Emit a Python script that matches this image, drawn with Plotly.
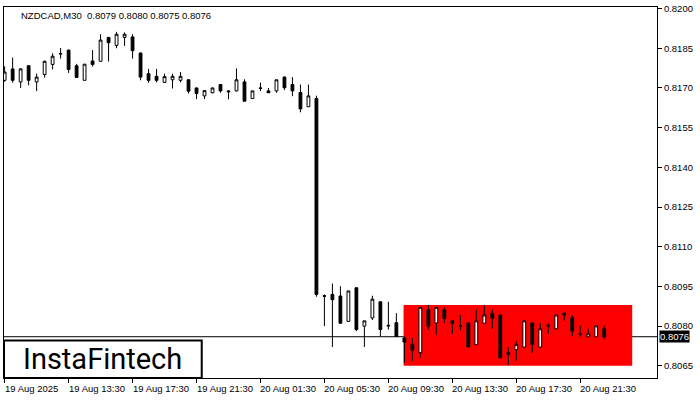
import plotly.graph_objects as go
import pandas as pd

# ---- data ----
symbol_title = "NZDCAD,M30\u00a0 0.8079 0.8080 0.8075 0.8076"
start_time = "2025-08-19 09:30"

opens = [0.81729, 0.81772, 0.81723, 0.81784, 0.81723, 0.81751, 0.81789, 0.81830, 0.81843, 0.81784,
         0.81729, 0.81802, 0.81801, 0.81891, 0.81861, 0.81891, 0.81893, 0.81832, 0.81754, 0.81744,
         0.81721, 0.81731, 0.81729, 0.81731, 0.81700, 0.81670, 0.81682, 0.81713, 0.81685, 0.81689,
         0.81723, 0.81660, 0.81700, 0.81689, 0.81689, 0.81741, 0.81713, 0.81683, 0.81629, 0.81660,
         0.80915, 0.80920, 0.80914, 0.80818, 0.80945, 0.80800, 0.80831, 0.80892, 0.80803, 0.80813,
         0.80755, 0.80731, 0.80700, 0.80862, 0.80812, 0.80862, 0.80820, 0.80801, 0.80812, 0.80730,
         0.80811, 0.80849, 0.80842, 0.80693, 0.80711, 0.80721, 0.80812, 0.80721, 0.80803, 0.80790,
         0.80849, 0.80832, 0.80770, 0.80760, 0.80760, 0.80790]
highs = [0.81782, 0.81815, 0.81775, 0.81786, 0.81754, 0.81803, 0.81831, 0.81851, 0.81845, 0.81791,
         0.81790, 0.81843, 0.81903, 0.81893, 0.81912, 0.81910, 0.81903, 0.81834, 0.81772, 0.81772,
         0.81754, 0.81754, 0.81760, 0.81733, 0.81702, 0.81692, 0.81702, 0.81715, 0.81692, 0.81774,
         0.81733, 0.81689, 0.81720, 0.81700, 0.81731, 0.81744, 0.81741, 0.81713, 0.81713, 0.81671,
         0.80920, 0.80961, 0.80951, 0.80933, 0.80946, 0.80820, 0.80915, 0.80893, 0.80892, 0.80849,
         0.80761, 0.80755, 0.80871, 0.80880, 0.80871, 0.80872, 0.80821, 0.80843, 0.80813, 0.80862,
         0.80880, 0.80862, 0.80843, 0.80721, 0.80742, 0.80820, 0.80813, 0.80811, 0.80812, 0.80842,
         0.80850, 0.80842, 0.80802, 0.80790, 0.80801, 0.80802]
lows = [0.81723, 0.81720, 0.81700, 0.81710, 0.81688, 0.81739, 0.81770, 0.81811, 0.81757, 0.81740,
        0.81729, 0.81781, 0.81801, 0.81800, 0.81850, 0.81859, 0.81811, 0.81729, 0.81720, 0.81721,
        0.81720, 0.81698, 0.81721, 0.81679, 0.81658, 0.81658, 0.81680, 0.81682, 0.81657, 0.81687,
        0.81650, 0.81659, 0.81688, 0.81682, 0.81682, 0.81692, 0.81669, 0.81608, 0.81628, 0.80911,
        0.80800, 0.80721, 0.80810, 0.80817, 0.80781, 0.80721, 0.80823, 0.80761, 0.80787, 0.80761,
        0.80662, 0.80669, 0.80680, 0.80787, 0.80768, 0.80811, 0.80771, 0.80783, 0.80721, 0.80729,
        0.80810, 0.80790, 0.80680, 0.80653, 0.80669, 0.80720, 0.80699, 0.80720, 0.80771, 0.80789,
        0.80821, 0.80762, 0.80761, 0.80759, 0.80759, 0.80751]
closes = [0.81760, 0.81729, 0.81772, 0.81729, 0.81741, 0.81801, 0.81820, 0.81829, 0.81770, 0.81740,
          0.81790, 0.81789, 0.81881, 0.81871, 0.81903, 0.81903, 0.81841, 0.81741, 0.81729, 0.81729,
          0.81743, 0.81744, 0.81744, 0.81688, 0.81679, 0.81690, 0.81700, 0.81689, 0.81688, 0.81731,
          0.81650, 0.81689, 0.81699, 0.81682, 0.81731, 0.81701, 0.81689, 0.81621, 0.81670, 0.80920,
          0.80913, 0.80900, 0.80811, 0.80933, 0.80787, 0.80820, 0.80902, 0.80787, 0.80801, 0.80761,
          0.80740, 0.80709, 0.80871, 0.80800, 0.80871, 0.80829, 0.80811, 0.80800, 0.80721, 0.80820,
          0.80842, 0.80829, 0.80680, 0.80700, 0.80730, 0.80820, 0.80730, 0.80790, 0.80801, 0.80842,
          0.80842, 0.80781, 0.80771, 0.80771, 0.80801, 0.80760]

current_price = 0.8076
zone_low = 0.8065
zone_high = 0.8088
zone_start_bar = 49.9
zone_end_bar = 78.5

y_ticks = [0.8065, 0.8080, 0.8095, 0.8110, 0.8125, 0.8140, 0.8155, 0.8170, 0.8185, 0.8200]
x_tick_bars = [0, 8, 16, 24, 32, 40, 48, 56, 64, 72]
x_tick_labels = ["19 Aug 2025", "19 Aug 13:30", "19 Aug 17:30", "19 Aug 21:30", "20 Aug 01:30",
                 "20 Aug 05:30", "20 Aug 09:30", "20 Aug 13:30", "20 Aug 17:30", "20 Aug 21:30"]

# ---- build ----
t0 = pd.Timestamp(start_time)
step = pd.Timedelta(minutes=30)
times = [t0 + i * step for i in range(len(opens))]


def bar_time(b):
    return t0 + b * step


FONT = "Liberation Sans"

fig = go.Figure()
fig.add_trace(go.Candlestick(
    x=times, open=opens, high=highs, low=lows, close=closes,
    increasing=dict(line=dict(color="black", width=1), fillcolor="white"),
    decreasing=dict(line=dict(color="black", width=1), fillcolor="black"),
    whiskerwidth=0, hoverinfo="skip", showlegend=False,
))

shapes = [
    dict(type="rect", xref="x", yref="y", x0=bar_time(zone_start_bar), x1=bar_time(zone_end_bar),
         y0=zone_low, y1=zone_high, fillcolor="#ff0000", line=dict(width=0), layer="below"),
    dict(type="line", xref="paper", yref="y", x0=0, x1=1, y0=current_price, y1=current_price,
         line=dict(color="black", width=1), layer="below"),
    # logo box
    dict(type="rect", xref="paper", yref="paper", x0=0.0, x1=0.3028, y0=0.0, y1=0.1013,
         fillcolor="white", line=dict(color="black", width=2), layer="above"),
]

annotations = [
    dict(xref="paper", yref="paper", x=0.023, y=1, xanchor="left", yanchor="top", yshift=-1,
         text=symbol_title, showarrow=False, font=dict(family=FONT, size=9.5, color="black")),
    dict(xref="paper", yref="y", x=1, y=current_price, xanchor="left", yanchor="middle", xshift=2,
         text=f"{current_price:.4f}", showarrow=False, bgcolor="black", borderpad=0,
         font=dict(family=FONT, size=9.5, color="white")),
    dict(xref="paper", yref="paper", x=0.1514, y=0.0507, xanchor="center", yanchor="middle",
         text="InstaFintech", showarrow=False, font=dict(family="Roboto", size=29, color="black")),
]
for b, lab in zip(x_tick_bars, x_tick_labels):
    annotations.append(dict(xref="x", yref="paper", x=bar_time(b), y=0, xanchor="left", yanchor="top",
                            yshift=-3, xshift=-2, text=lab, showarrow=False,
                            font=dict(family=FONT, size=9.5, color="black")))

fig.update_layout(
    width=700, height=400,
    margin=dict(l=3, r=43, t=3, b=22),
    paper_bgcolor="white", plot_bgcolor="white",
    boxgap=0.5,
    shapes=shapes, annotations=annotations,
    showlegend=False,
    xaxis=dict(
        type="date",
        range=[bar_time(-0.08), bar_time(81.6)],
        rangeslider=dict(visible=False),
        showgrid=False, zeroline=False,
        showline=True, linecolor="black", linewidth=1, mirror=True,
        ticks="outside", ticklen=4, tickcolor="black",
        tickvals=[bar_time(b) for b in x_tick_bars], showticklabels=False,
    ),
    yaxis=dict(
        side="right",
        range=[0.80604, 0.82006],
        showgrid=False, zeroline=False,
        showline=True, linecolor="black", linewidth=1, mirror=True,
        ticks="outside", ticklen=4, tickcolor="black",
        tickvals=y_ticks, ticktext=[f"{v:.4f}" for v in y_ticks],
        ticklabeloverflow="allow",
        tickfont=dict(family=FONT, size=9.5, color="black"),
    ),
)

fig.write_html("out.html",
               config={"displayModeBar": False, "staticPlot": True},
               post_script="document.body.style.margin='0';document.body.style.padding='0';")
